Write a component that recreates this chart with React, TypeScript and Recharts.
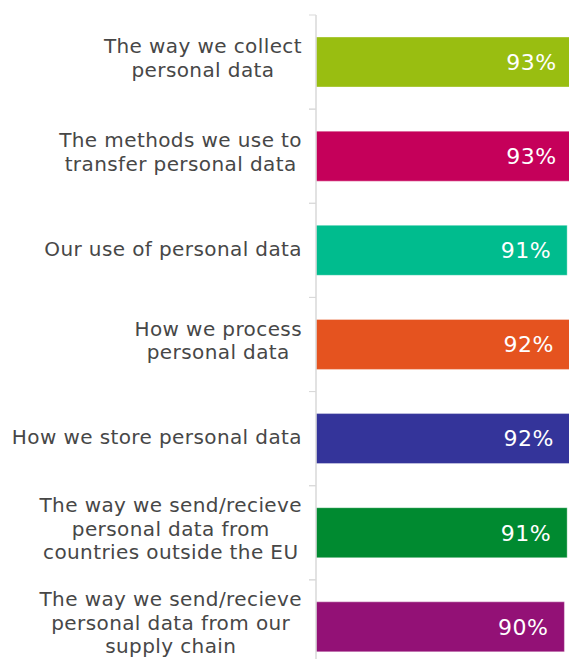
import React from "react";
import { Bar, BarChart, Cell, LabelList, YAxis, XAxis } from "recharts";

const categories = [
  "The way we collect\npersonal data",
  "The methods we use to\ntransfer personal data",
  "Our use of personal data",
  "How we process\npersonal data",
  "How we store personal data",
  "The way we send/recieve\npersonal data from\ncountries outside the EU",
  "The way we send/recieve\npersonal data from our\nsupply chain",
];
const values = [93, 93, 91, 92, 92, 91, 90];
const colors = ["#99BE11", "#C5005A", "#00BC8E", "#E5531F", "#34349A", "#008A30", "#931176"];

const rows = categories.map((name, i) => ({ name, pct: values[i], idx: i }));

const FONT = "DejaVu Sans, Verdana, sans-serif";
const LABEL_SIZE = 20;
const LINE_H = 23.6;

const CHART_H = 700;
const MARGIN = { top: 15, right: 8, bottom: 26, left: 0 };
const BAND = (CHART_H - MARGIN.top - MARGIN.bottom) / categories.length;

let ctx: CanvasRenderingContext2D | null = null;
function textWidth(s: string) {
  if (!ctx) {
    ctx = document.createElement("canvas").getContext("2d");
  }
  if (!ctx) return s.length * 11;
  ctx.font = `${LABEL_SIZE}px ${FONT}`;
  (ctx as any).letterSpacing = "0.4px";
  return ctx.measureText(s).width;
}

function CategoryTick(props: any) {
  const { x, y, payload } = props;
  const lines: string[] = String(payload.value).split("\n");
  const w = Math.max(...lines.map(textWidth));
  const cx = x - 14 - w / 2;
  const n = lines.length;
  const shift = n === 1 ? 1.5 : 4.5;
  const top = y - BAND / 2;
  const bottom = y + BAND / 2;
  return (
    <g>
      {/* separator ticks at band edges */}
      <line x1={x - 7} x2={x} y1={top} y2={top} stroke="#d9d9d9" strokeWidth={1} />
      <line x1={x - 7} x2={x} y1={bottom} y2={bottom} stroke="#d9d9d9" strokeWidth={1} />
      {lines.map((ln, i) => (
        <text
          key={i}
          x={cx}
          y={y + (i - (n - 1) / 2) * LINE_H + 7.3 - shift}
          textAnchor="middle"
          fill="#474747"
          fontSize={LABEL_SIZE}
          fontFamily={FONT}
          letterSpacing={0.4}
        >
          {ln}
        </text>
      ))}
    </g>
  );
}

export default function App() {
  return (
    <div
      style={{
        position: "fixed",
        left: 0,
        top: 0,
        width: 569,
        height: 659,
        overflow: "hidden",
        background: "#fff",
      }}
    >
      <BarChart
        width={600}
        height={CHART_H}
        data={rows}
        layout="vertical"
        margin={MARGIN}
        barSize={50}
      >
        <XAxis type="number" domain={[0, 100]} hide />
        <YAxis
          type="category"
          dataKey="name"
          width={316}
          tickLine={false}
          axisLine={{ stroke: "#d9d9d9", strokeWidth: 1.5 }}
          tickSize={0}
          tickMargin={0}
          interval={0}
          tick={<CategoryTick />}
        />
        <Bar dataKey="pct" isAnimationActive={false} stroke="rgba(255,255,255,0.35)" strokeWidth={1}>
          {rows.map((r) => (
            <Cell key={r.idx} fill={colors[r.idx]} />
          ))}
          <LabelList
            dataKey="pct"
            position="insideRight"
            offset={16}
            formatter={(v: any) => `${v}%`}
            fill="#ffffff"
            fontSize={22}
            fontFamily={FONT}
            letterSpacing={0.5}
          />
        </Bar>
      </BarChart>
    </div>
  );
}
